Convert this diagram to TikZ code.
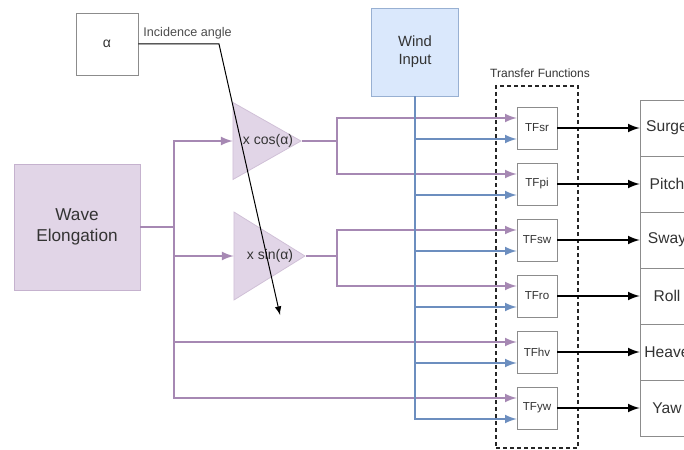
\documentclass[tikz,border=0pt]{standalone}
\usepackage{fontspec}
\setmainfont{Liberation Sans}
\usetikzlibrary{shapes.geometric}
\definecolor{wavefill}{HTML}{E1D5E7}
\definecolor{waveline}{HTML}{9673A6}
\definecolor{windfill}{HTML}{DAE8FC}
\definecolor{windline}{HTML}{6C8EBF}
\definecolor{txt}{HTML}{333333}
\begin{document}
\begin{tikzpicture}[x=0.5pt, y=-0.5pt,
    every node/.style={align=center, text=txt, inner sep=0pt},
    anglebox/.style={rectangle, draw=black!45, fill=white, minimum width=31pt, minimum height=31pt, font=\fontsize{7}{8}\selectfont},
    wavebox/.style={rectangle, draw=waveline!55, fill=wavefill, minimum width=63pt, minimum height=63pt, font=\fontsize{8.6}{10.5}\selectfont},
    windbox/.style={rectangle, draw=windline!70, fill=windfill, minimum width=43.5pt, minimum height=44pt, font=\fontsize{7.4}{9}\selectfont},
    gain/.style={isosceles triangle, isosceles triangle stretches, draw=waveline!45, fill=wavefill, anchor=apex},
    gainlabel/.style={font=\fontsize{7}{8}\selectfont},
    tfbox/.style={rectangle, draw=black!45, fill=white, minimum width=20pt, minimum height=21pt, font=\fontsize{5.8}{7}\selectfont},
    dofbox/.style={rectangle, draw=black!45, fill=white, minimum width=27pt, minimum height=28pt, font=\fontsize{7.8}{9}\selectfont},
    groupbox/.style={rectangle, draw=black!85, dashed, line width=0.8pt, dash pattern=on 2pt off 1.5pt, minimum width=41pt, minimum height=181pt},
    purpline/.style={line width=1pt, waveline!85},
    purp/.style={-latex, line width=1pt, waveline!85},
    blu/.style={-latex, line width=1pt, windline},
    arr/.style={-latex, line width=1pt, black},
    incline/.style={-latex, line width=0.5pt, black}
]
\clip (0,0) rectangle (684,449);

\node[anglebox] (alpha) at (107,44) {α};
\node[anchor=west, text=black!70, font=\fontsize{6.3}{8}\selectfont] (inclabel) at (143,33) {Incidence angle};
\node[wavebox] (wave) at (77,227) {Wave\\Elongation};
\node[windbox] (wind) at (415,52) {Wind\\Input};
\node[gain, minimum height=34pt, minimum width=38.5pt] (cos) at (302,141) {};
\node[gain, minimum height=35.5pt, minimum width=44pt] (sin) at (306,256) {};
\node[gainlabel] (coslabel) at (268,141) {x cos(α)};
\node[gainlabel] (sinlabel) at (270,256) {x sin(α)};

\node[groupbox] (tfgroup) at (537,267) {};
\node (tflabel) at (540,73) {\fontsize{6}{7}\selectfont Transfer Functions};

\node[tfbox] (tfsr) at (537,128) {TFsr};
\node[tfbox] (tfpi) at (537,184) {TFpi};
\node[tfbox] (tfsw) at (537,240) {TFsw};
\node[tfbox] (tfro) at (537,296) {TFro};
\node[tfbox] (tfhv) at (537,352) {TFhv};
\node[tfbox] (tfyw) at (537,408) {TFyw};

\node[dofbox] (surge) at (667,128) {Surge};
\node[dofbox] (pitch) at (667,184) {Pitch};
\node[dofbox] (sway)  at (667,240) {Sway};
\node[dofbox] (roll)  at (667,296) {Roll};
\node[dofbox] (heave) at (667,352) {Heave};
\node[dofbox] (yaw)   at (667,408) {Yaw};

\coordinate (wbus) at (174,227);
\coordinate (cossplit) at (337,141);
\coordinate (sinsplit) at (337,256);
\coordinate (bend) at (219,44);
\coordinate (incend) at (280,315);

\draw[purpline] (wave.east) -- (wbus);
\draw[purp] (wbus) |- (cos.west);
\draw[purp] (wbus) |- (sin.west);
\draw[purp] (wbus) |- ([yshift=5pt]tfhv.west);
\draw[purp] (wbus) |- ([yshift=5pt]tfyw.west);

\draw[purpline] (cos.apex) -- (cossplit);
\draw[purp] (cossplit) |- ([yshift=5pt]tfsr.west);
\draw[purp] (cossplit) |- ([yshift=5pt]tfpi.west);
\draw[purpline] (sin.apex) -- (sinsplit);
\draw[purp] (sinsplit) |- ([yshift=5pt]tfsw.west);
\draw[purp] (sinsplit) |- ([yshift=5pt]tfro.west);

\draw[blu] (wind.south) |- ([yshift=-5.5pt]tfsr.west);
\draw[blu] (wind.south) |- ([yshift=-5.5pt]tfpi.west);
\draw[blu] (wind.south) |- ([yshift=-5.5pt]tfsw.west);
\draw[blu] (wind.south) |- ([yshift=-5.5pt]tfro.west);
\draw[blu] (wind.south) |- ([yshift=-5.5pt]tfhv.west);
\draw[blu] (wind.south) |- ([yshift=-5.5pt]tfyw.west);

\draw[arr] (tfsr.east) -- (surge.west);
\draw[arr] (tfpi.east) -- (pitch.west);
\draw[arr] (tfsw.east) -- (sway.west);
\draw[arr] (tfro.east) -- (roll.west);
\draw[arr] (tfhv.east) -- (heave.west);
\draw[arr] (tfyw.east) -- (yaw.west);

\draw[incline] (alpha.east) -- (bend) -- (incend);
\end{tikzpicture}
\end{document}
